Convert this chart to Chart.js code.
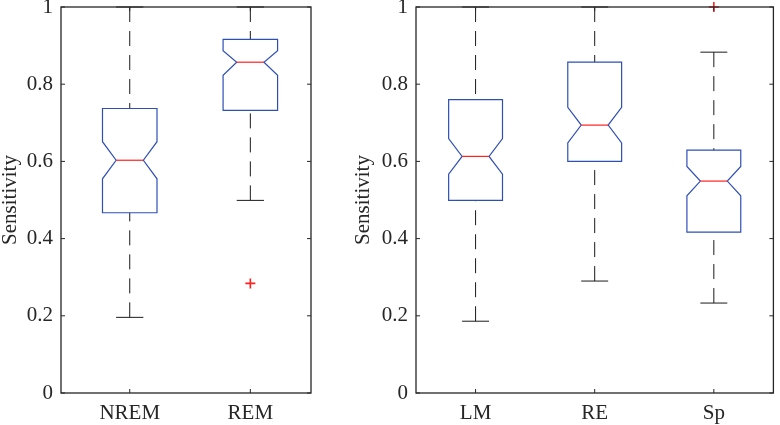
<!DOCTYPE html>
<html>
<head>
<meta charset="utf-8">
<script src="https://cdn.jsdelivr.net/npm/chart.js@4.4.0/dist/chart.umd.min.js"></script>
<style>
  html, body { margin: 0; padding: 0; background: #fff; }
  #wrap { position: relative; width: 780px; height: 425px; }
  .panel { position: absolute; top: 0; height: 425px; }
  #p1 { left: 0; width: 330px; }
  #p2 { left: 330px; width: 450px; }
</style>
</head>
<body>
<div id="wrap">
  <div class="panel" id="p1"><canvas id="c1"></canvas></div>
  <div class="panel" id="p2"><canvas id="c2"></canvas></div>
</div>
<script>
// left panel - sleep stage
const stageLabels   = ['NREM', 'REM'];
const stageWhiskLo  = [0.196, 0.499];
const stageQ1       = [0.467, 0.732];
const stageNotchLo  = [0.555, 0.823];
const stageMedian   = [0.603, 0.857];
const stageNotchHi  = [0.651, 0.887];
const stageQ3       = [0.737, 0.916];
const stageWhiskHi  = [1.0, 1.0];
const stageOutliers = [{ x: 2, y: 0.284 }];

// right panel - location
const locLabels   = ['LM', 'RE', 'Sp'];
const locWhiskLo  = [0.186, 0.290, 0.233];
const locQ1       = [0.499, 0.600, 0.417];
const locNotchLo  = [0.567, 0.648, 0.511];
const locMedian   = [0.613, 0.694, 0.549];
const locNotchHi  = [0.659, 0.740, 0.587];
const locQ3       = [0.760, 0.857, 0.629];
const locWhiskHi  = [1.0, 1.0, 0.883];
const locOutliers = [{ x: 3, y: 1.0 }];

const yTicks = [0, 0.2, 0.4, 0.6, 0.8, 1];

const FONT = 'Liberation Serif';
const TEXT = '#262626';
const BLUE = '#2f4fb5';
const RED = '#ff2020';
const BOX_HALF = 0.226, NOTCH_HALF = 0.113, CAP_HALF = 0.113;

function boxPlugin(s) {
  return {
    id: 'notchBoxes',
    beforeDatasetsDraw(chart) {
      const { ctx, scales: { x, y } } = chart;
      const ln = (x1, y1, x2, y2) => { ctx.beginPath(); ctx.moveTo(x1, y1); ctx.lineTo(x2, y2); ctx.stroke(); };
      ctx.save();
      s.q1.forEach((_, i) => {
        const p = i + 1;
        const xc = x.getPixelForValue(p);
        const xl = x.getPixelForValue(p - BOX_HALF), xr = x.getPixelForValue(p + BOX_HALF);
        const nl = x.getPixelForValue(p - NOTCH_HALF), nr = x.getPixelForValue(p + NOTCH_HALF);
        const cl = x.getPixelForValue(p - CAP_HALF), cr = x.getPixelForValue(p + CAP_HALF);
        const yq1 = y.getPixelForValue(s.q1[i]), yq3 = y.getPixelForValue(s.q3[i]);
        const ynl = y.getPixelForValue(s.notchLo[i]), ynh = y.getPixelForValue(s.notchHi[i]);
        const ym = y.getPixelForValue(s.median[i]);
        const ywl = y.getPixelForValue(s.whiskLo[i]), ywh = y.getPixelForValue(s.whiskHi[i]);

        // whiskers
        ctx.strokeStyle = '#1a1a1a';
        ctx.lineWidth = 1;
        ctx.setLineDash([15, 9]);
        ln(xc, ywh, xc, yq3);
        ln(xc, ywl, xc, yq1);
        ctx.setLineDash([]);
        ln(cl, ywh, cr, ywh);
        ln(cl, ywl, cr, ywl);

        // notched box
        ctx.strokeStyle = BLUE;
        ctx.lineWidth = 1.2;
        ctx.beginPath();
        ctx.moveTo(xl, yq1);
        ctx.lineTo(xl, ynl);
        ctx.lineTo(nl, ym);
        ctx.lineTo(xl, ynh);
        ctx.lineTo(xl, yq3);
        ctx.lineTo(xr, yq3);
        ctx.lineTo(xr, ynh);
        ctx.lineTo(nr, ym);
        ctx.lineTo(xr, ynl);
        ctx.lineTo(xr, yq1);
        ctx.closePath();
        ctx.stroke();

        // median
        ctx.strokeStyle = RED;
        ln(nl, ym, nr, ym);
      });
      ctx.restore();
    },
    afterDraw(chart) {
      const { ctx, chartArea: a, scales: { x, y } } = chart;
      ctx.save();
      ctx.strokeStyle = TEXT;
      ctx.lineWidth = 1.3;
      ctx.strokeRect(a.left, a.top, a.right - a.left, a.bottom - a.top);
      ctx.lineWidth = 1;
      yTicks.forEach(v => {
        const py = y.getPixelForValue(v);
        ctx.beginPath();
        ctx.moveTo(a.left, py); ctx.lineTo(a.left + 4, py);
        ctx.moveTo(a.right, py); ctx.lineTo(a.right - 4, py);
        ctx.stroke();
      });
      s.q1.forEach((_, i) => {
        const px = x.getPixelForValue(i + 1);
        ctx.beginPath();
        ctx.moveTo(px, a.bottom); ctx.lineTo(px, a.bottom - 4);
        ctx.moveTo(px, a.top); ctx.lineTo(px, a.top + 4);
        ctx.stroke();
      });
      ctx.restore();
    }
  };
}

function makeChart(id, labels, stats, outliers, xMin, xMax, yWidth, pad) {
  return new Chart(document.getElementById(id), {
    type: 'scatter',
    data: {
      datasets: [{
        data: outliers,
        pointStyle: 'cross',
        radius: 5,
        borderColor: RED,
        backgroundColor: RED,
        borderWidth: 1.6,
        clip: false
      }]
    },
    options: {
      responsive: true,
      maintainAspectRatio: false,
      animation: false,
      layout: { padding: pad },
      plugins: { legend: { display: false }, tooltip: { enabled: false } },
      scales: {
        x: {
          type: 'linear',
          min: xMin,
          max: xMax,
          grid: { display: false, drawTicks: false },
          border: { display: false },
          afterBuildTicks: sc => { sc.ticks = labels.map((l, i) => ({ value: i + 1 })); },
          afterFit: sc => { sc.height = 32; sc.paddingLeft = 0; sc.paddingRight = 0; },
          ticks: {
            autoSkip: false,
            maxRotation: 0,
            padding: 8,
            color: TEXT,
            font: { family: FONT, size: 21 },
            callback: v => labels[v - 1]
          }
        },
        y: {
          min: 0,
          max: 1,
          grid: { display: false, drawTicks: false },
          border: { display: false },
          afterBuildTicks: sc => { sc.ticks = yTicks.map(v => ({ value: v })); },
          afterFit: sc => { sc.width = yWidth; sc.paddingTop = 0; sc.paddingBottom = 0; },
          ticks: {
            padding: 8,
            color: TEXT,
            font: { family: FONT, size: 21 },
            callback: v => String(Math.round(v * 10) / 10)
          },
          title: {
            display: true,
            text: 'Sensitivity',
            color: TEXT,
            padding: 0,
            font: { family: FONT, size: 21, lineHeight: 1 }
          }
        }
      }
    },
    plugins: [boxPlugin(stats)]
  });
}

makeChart('c1', stageLabels, {
  q1: stageQ1, q3: stageQ3, median: stageMedian,
  notchLo: stageNotchLo, notchHi: stageNotchHi,
  whiskLo: stageWhiskLo, whiskHi: stageWhiskHi
}, stageOutliers, 0.43, 2.503, 61, { top: 7, right: 19, left: 0, bottom: 0 });

makeChart('c2', locLabels, {
  q1: locQ1, q3: locQ3, median: locMedian,
  notchLo: locNotchLo, notchHi: locNotchHi,
  whiskLo: locWhiskLo, whiskHi: locWhiskHi
}, locOutliers, 0.5, 3.5, 63, { top: 7, right: 2, left: 23, bottom: 0 });
</script>
</body>
</html>
